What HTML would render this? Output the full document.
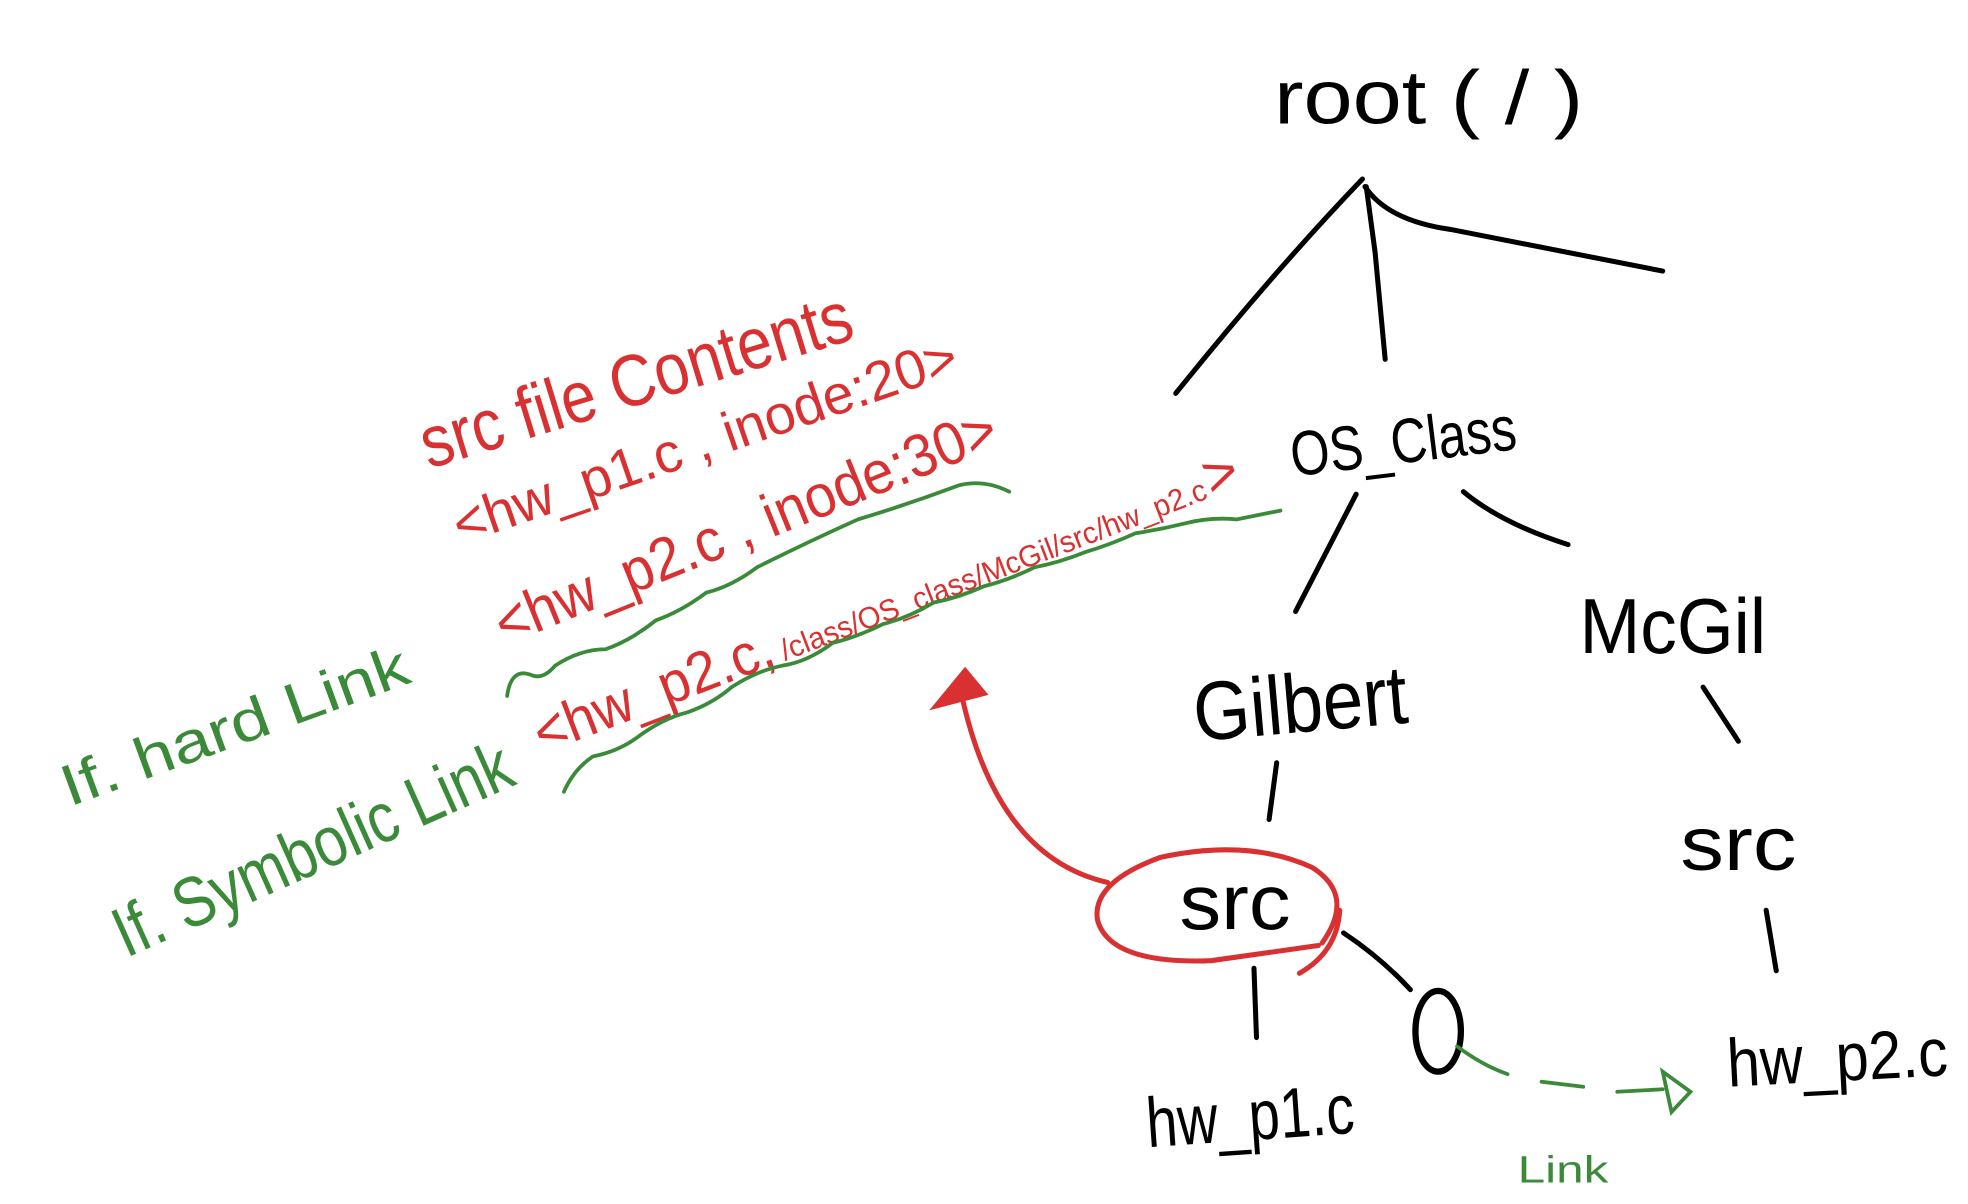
<!DOCTYPE html>
<html><head><meta charset="utf-8"><style>
html,body{margin:0;padding:0;background:#fff;}
svg{display:block;}
text{font-family:"Liberation Sans Narrow","Liberation Sans",sans-serif;}
</style></head><body>
<svg width="1968" height="1204" viewBox="0 0 1560 955" preserveAspectRatio="none" xmlns="http://www.w3.org/2000/svg">
<rect width="1560" height="955" fill="#fff"/>
<g fill="none" stroke="#000" stroke-width="4" stroke-linecap="round">
<path d="M1080 142 Q1010 215 932 312"/>
<path d="M1083 148 L1090 200 L1098 285"/>
<path d="M1082 148 Q1100 175 1150 182 Q1240 200 1318 215"/>
<path d="M1075 392 L1027 485"/>
<path d="M1160 390 Q1190 415 1243 432"/>
<path d="M1350 545 L1378 588"/>
<path d="M1400 722 L1408 770"/>
<path d="M1012 605 L1006 650"/>
<path d="M994 768 L996 823"/>
<path d="M1065 740 Q1095 760 1118 785"/>
<ellipse cx="1140" cy="818" rx="18" ry="32" stroke-width="5"/>
</g>
<g fill="#000" font-size="60">
<text x="1010" y="98" textLength="245" lengthAdjust="spacingAndGlyphs">root ( / )</text>
<text x="1025" y="378" font-size="50" textLength="180" lengthAdjust="spacingAndGlyphs" transform="rotate(-7 1025 378)">OS_Class</text>
<text x="948" y="588" font-size="66" textLength="170" lengthAdjust="spacingAndGlyphs" transform="rotate(-5 948 588)">Gilbert</text>
<text x="1252" y="518" font-size="62" textLength="148" lengthAdjust="spacingAndGlyphs">McGil</text>
<text x="1332" y="690" font-size="60" textLength="92" lengthAdjust="spacingAndGlyphs">src</text>
<text x="1370" y="862" font-size="54" textLength="175" lengthAdjust="spacingAndGlyphs" transform="rotate(-3 1370 862)">hw_p2.c</text>
<text x="935" y="737" font-size="62" textLength="88" lengthAdjust="spacingAndGlyphs">src</text>
<text x="910" y="910" font-size="56" textLength="165" lengthAdjust="spacingAndGlyphs" transform="rotate(-4 910 910)">hw_p1.c</text>
</g>
<g fill="none" stroke="#d93131" stroke-width="4" stroke-linecap="round">
<path d="M1048 748 Q1075 710 1040 688 Q990 665 920 680 Q865 700 870 730 Q880 765 960 762 Q1010 755 1045 750"/>
<path d="M1062 722 Q1060 755 1030 772"/>
<path d="M878 700 Q790 680 762 550"/>
</g>
<path d="M742 560 L765 532 L780 550 Z" fill="#d93131" stroke="#d93131" stroke-width="4"/>
<g fill="#d93131">
<text x="340" y="372" font-size="58" textLength="355" lengthAdjust="spacingAndGlyphs" transform="rotate(-17 340 372)">src file Contents</text>
<text x="365" y="432" font-size="44" textLength="420" lengthAdjust="spacingAndGlyphs" transform="rotate(-19 365 432)">&lt;hw_p1.c , inode:20&gt;</text>
<text x="400" y="512" font-size="48" textLength="425" lengthAdjust="spacingAndGlyphs" transform="rotate(-22 400 512)">&lt;hw_p2.c , inode:30&gt;</text>
<text x="430" y="598" font-size="46" transform="rotate(-21 430 598)"><tspan textLength="200" lengthAdjust="spacingAndGlyphs">&lt;hw_p2.c,</tspan><tspan font-size="24" dx="6" textLength="360" lengthAdjust="spacingAndGlyphs">/class/OS_class/McGil/src/hw_p2.c</tspan><tspan font-size="46" dx="2">&gt;</tspan></text>
</g>
<g fill="none" stroke="#3a8a3a" stroke-width="3" stroke-linecap="round">
<path d="M402 552 Q405 530 420 535 Q430 540 440 528 Q460 515 480 515 Q500 508 520 492 Q540 485 560 470 Q580 465 600 450 Q640 430 680 412 Q720 400 760 385 Q780 380 800 390"/>
<path d="M447 628 Q455 610 470 600 Q490 596 505 585 Q525 570 545 565 Q565 558 580 545 Q600 532 620 528 Q640 525 660 510 Q680 505 700 495 Q720 490 740 478 Q760 474 780 465 Q800 460 820 450 Q840 446 860 438 Q880 432 900 423 Q920 420 940 415 Q960 410 980 412 Q1000 408 1015 405"/>
<path d="M1155 830 Q1175 845 1195 852"/>
<path d="M1222 858 L1255 862"/>
<path d="M1282 866 L1318 864"/>
<path d="M1318 850 L1340 866 L1325 882 Z"/>
</g>
<g fill="#3a8a3a">
<text x="55" y="640" font-size="46" textLength="290" lengthAdjust="spacingAndGlyphs" transform="rotate(-20 55 640)">If. hard Link</text>
<text x="100" y="760" font-size="56" textLength="340" lengthAdjust="spacingAndGlyphs" transform="rotate(-24 100 760)">If. Symbolic Link</text>
<text x="1203" y="938" font-size="30" textLength="72" lengthAdjust="spacingAndGlyphs">Link</text>
</g>
</svg>
</body></html>
